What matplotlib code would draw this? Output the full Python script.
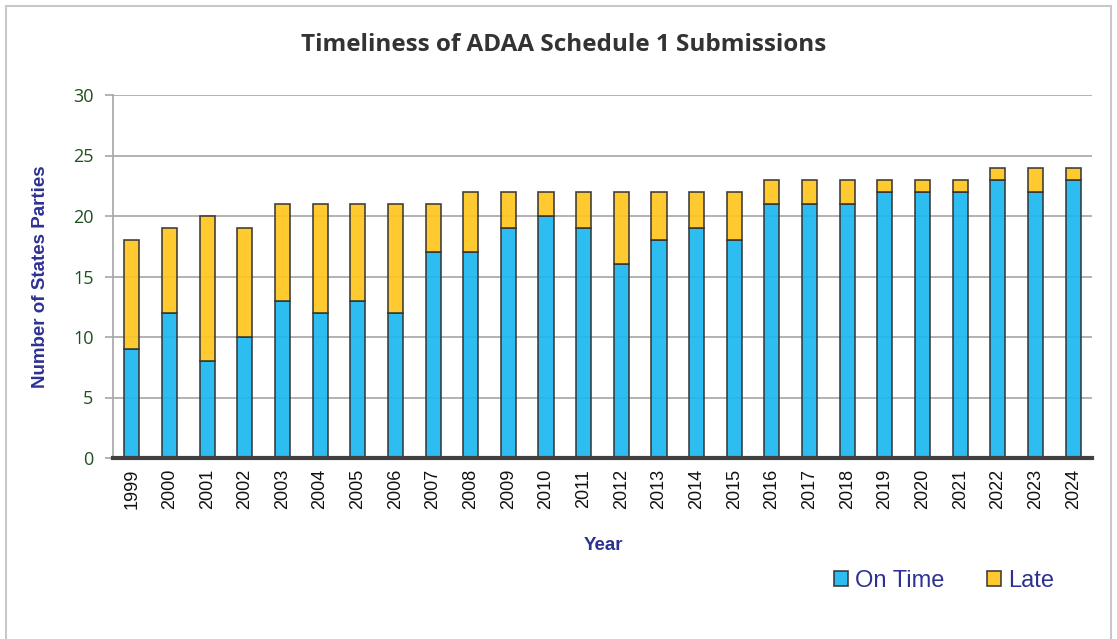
import matplotlib.pyplot as plt
from matplotlib.patches import Rectangle

years = [str(y) for y in range(1999, 2025)]
on_time = [9, 12, 8, 10, 13, 12, 13, 12, 17, 17, 19, 20, 19, 16, 18, 19, 18,
           21, 21, 21, 22, 22, 22, 23, 22, 23]
late = [9, 7, 12, 9, 8, 9, 8, 9, 4, 5, 3, 2, 3, 6, 4, 3, 4,
        2, 2, 2, 1, 1, 1, 1, 2, 1]

plt.rcParams['font.family'] = ['Open Sans', 'DejaVu Sans']

W, H = 1117, 639
fig = plt.figure(figsize=(W / 100, H / 100), dpi=100)
fig.patches.append(Rectangle((6 / W, -0.01), (1111 - 6) / W, 1.01 - 6 / H,
                             transform=fig.transFigure, fill=False,
                             edgecolor='#c8c8c8', linewidth=1.5))

ax = fig.add_axes([113 / W, (H - 458) / H, (1092 - 113) / W, (458 - 95) / H])

x = range(len(years))
blue = '#1cb8ef'
yellow = '#ffc61e'
edge = (0.2, 0.2, 0.2, 0.6)
ax.bar(x, on_time, width=0.4, color=blue, alpha=0.92, edgecolor=edge,
       linewidth=1.2, label='On Time', zorder=2)
ax.bar(x, late, width=0.4, bottom=on_time, color=yellow, alpha=0.92,
       edgecolor=edge, linewidth=1.2, label='Late', zorder=2)

ax.set_xlim(-0.5, len(years) - 0.5)
ax.set_ylim(0, 30)
ax.set_yticks(range(0, 31, 5))
ax.yaxis.grid(True, color='#a6a6a6', linewidth=1.2, zorder=1)
ax.set_axisbelow(True)

ax.set_xticks(list(x))
ax.set_xticklabels(years, rotation=90, fontsize=13, color='#111111',
                   family='Liberation Sans')
ax.tick_params(axis='x', length=0, pad=8)
ax.tick_params(axis='y', length=6, width=1.2, color='#a6a6a6',
               labelsize=13, labelcolor='#1f5120', pad=8)

for s in ['top', 'right']:
    ax.spines[s].set_visible(False)
ax.spines['left'].set_color('#a6a6a6')
ax.spines['left'].set_linewidth(1.2)
ax.spines['bottom'].set_color('#404040')
ax.spines['bottom'].set_linewidth(3)
ax.spines['bottom'].set_zorder(5)

fig.text(564 / W, 1 - 45 / H, 'Timeliness of ADAA Schedule 1 Submissions',
         ha='center', va='center', fontsize=17.5, fontweight='bold',
         color='#333333')
fig.text(41 / W, 1 - 277 / H, 'Number of States Parties', rotation=90,
         ha='center', va='center', fontsize=13.5, fontweight='bold',
         color='#2e3192', family='Liberation Sans')
fig.text(603 / W, 1 - 546 / H, 'Year', ha='center', va='center',
         fontsize=13.5, fontweight='bold', color='#2e3192',
         family='Liberation Sans')

leg = fig.legend(loc='center', bbox_to_anchor=(944 / W, 1 - 581 / H),
                 ncol=2, frameon=False, prop={'family': 'Liberation Sans',
                                              'size': 17},
                 handlelength=0.6, handleheight=0.6, handletextpad=0.3,
                 columnspacing=1.8)
for t in leg.get_texts():
    t.set_color('#2e3192')

fig.savefig('out.png', dpi=100)
